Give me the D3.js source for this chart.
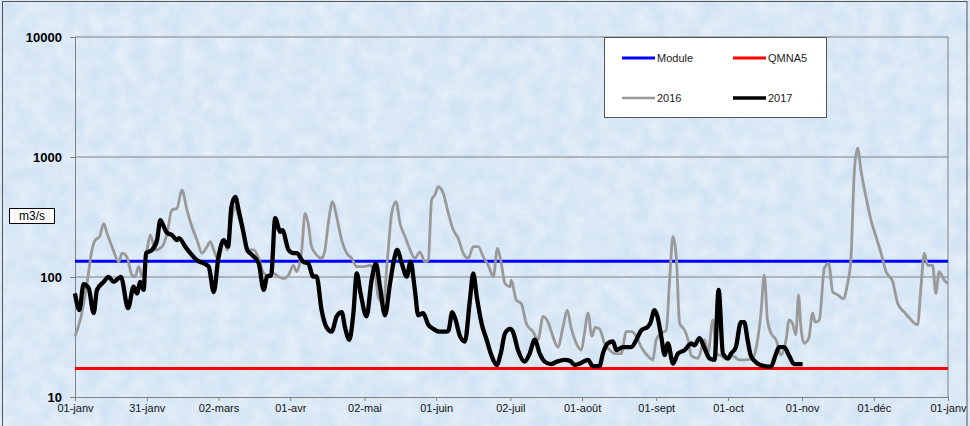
<!DOCTYPE html>
<html><head><meta charset="utf-8">
<script src="https://cdn.jsdelivr.net/npm/d3@7"></script>
<style>
html,body{margin:0;padding:0;background:#fff;}
svg{display:block;font-family:"Liberation Sans",Arial,sans-serif;}
</style></head>
<body><svg id="c" width="970" height="426"></svg>
<script>
// ---- data (day of year, m3/s) ----
const tickDays   = [0,30,60,90,121,151,182,212,243,273,304,334,365];
const tickLabels = ["01-janv","31-janv","02-mars","01-avr","02-mai","01-juin","02-juil","01-août","01-sept","01-oct","01-nov","01-déc","01-janv"];
const yTicks = [10,100,1000,10000];
const moduleValue = 135;
const qmna5Value = 17.3;

const days2016 = [0,2.2,5,7.1,8.5,10.3,12,13.4,15.5,18.3,19.7,21.7,23.8,25.2,26.6,28.2,30.1,31.5,33.6,36.4,38.5,40.5,42.6,44.7,46.8,48.9,51,53.1,55.2,56.6,58,60,62.2,63.6,65.6,67,68.4,70.5,72.6,74.7,76.8,78.9,81,83,85,87.2,89.3,91.3,92.7,94.8,96.2,97.5,98.9,101,103.1,104.5,105.9,107.7,109.4,111.5,113.6,115.7,117.8,120.6,123.3,125.4,126.8,128.9,130.6,132.4,134.2,135.9,138,140.1,142.1,144.2,146.3,147.7,149.1,150.5,151.9,154,156.1,158.2,160.2,162.3,164.4,166.5,168.6,170.7,172.8,174.9,176.6,178,179.8,181.9,182.4,184.5,186.6,188.7,191.5,193.6,195.7,197.8,199.8,201.9,204,205.8,207.4,209.6,211.7,213,214.5,216.1,217.5,219.3,221.4,223.5,225.6,228.4,230.5,232.6,234.7,236.8,239.5,241.6,243,245.1,247.2,248.6,250,251.4,252.8,254.9,256.3,257.7,260.5,263.2,264.6,266.7,268.1,270.2,273,275,277.7,280.5,283.3,285.4,286.8,288.2,289.5,291,293.1,295.2,297.3,298.6,300,301.4,302.5,303.5,304.9,306.8,308.4,309.5,311.2,313.3,315.1,316.8,318.9,321.2,323,324.4,325.8,327.2,328.6,330.7,332.8,334.9,337,339.1,341.9,344,346.7,349.5,352.3,353.7,355.1,356.5,358.6,359.9,361.3,363.4,364.8];
const flow2016 = [32,44,88,168,203,217,279,231,179,134,158,147,104,101,122,101,168,224,168,179,231,362,372,532,362,262,203,158,179,197,168,138,203,168,317,385,317,231,168,168,143,107,101,107,101,97,104,125,111,168,339,279,179,153,143,168,279,424,317,203,158,143,122,122,125,107,68,60,138,339,424,279,217,168,143,162,134,138,439,484,565,497,339,246,211,158,143,179,179,147,125,101,173,138,88,83,94,64,60,41,35,30,47,42,32,26,38,53,38,28,24.6,34,50,32,38,37,28,24.6,23,23,35,35,32,26,22,20.4,30,34,36,94,217,147,41,36,30,22,21,30,23,44,23,22,20.4,22,20.4,20.4,21,30,50,104,44,34,30,22.4,30,44,41,33,71,38,28,31,50,42,44,118,130,75,71,66,88,138,736,1185,776,466,298,217,158,111,91,60,51,44,40,83,158,125,125,73,111,94,88];

const days2017 = [0,1.8,3.6,5.7,7.8,9.2,12,14,16.2,18.3,19.2,22.2,24.5,25.9,27.3,28.7,29.7,32.2,34.3,35.7,36.5,38.5,40.5,42.6,43.5,46.1,48.2,51,53.8,55.9,58,60,62.2,64,65.4,67,68.4,70.5,72,74,76.8,78.9,80.3,82,83.7,85.8,86.7,89.3,91.4,92.7,95.4,97.5,99.6,101,103.1,105.2,107.3,109.4,111.5,112.9,114.7,116.4,117.8,119.4,121.9,124,125.8,127.5,129.6,131.7,133.1,134.7,136.6,138.7,140.3,142.1,143.5,145.6,147.7,149.8,152.6,155.4,156.2,157.7,159.1,161,163,165.1,166.5,168,170,172.1,174.2,176.3,178,179.8,181.9,183.1,185.2,188,190.1,192.2,194.3,196.4,199,201.5,204.7,207,208.9,211,214.5,216.5,219.3,220.7,222.8,224.9,226.3,229.1,232.6,234.7,236.8,239.5,240.5,242.3,243.5,245.1,246.5,247.9,250,252.1,254.9,257.7,259,261.1,263.2,265.3,267.4,269.1,270.9,273,274.3,276.3,278.4,279.8,281.2,282.6,285.4,288.2,291,292.8,294.4,296.5,298.6,300.7,304.2];
const flow2017 = [73,53,87,81,50,78,91,100,91,98,100,55,83,73,91,78,158,168,203,298,280,233,224,203,211,179,158,138,130,122,75,147,203,179,385,466,362,231,168,153,130,78,101,103,309,238,246,168,158,158,134,130,101,101,53,38,35,47,51,38,30,50,107,73,47,94,130,83,48,88,130,168,130,101,134,78,48,50,40,37,35,35,36,51,44,32,29,64,107,68,41,30,22,18.5,23,34,37,35,24.6,19.7,23,30,23,19.7,18.8,19.7,20.4,20,18.5,19,20.4,18.1,18.1,23,28,29,24.6,26,26,30,36,38.5,41,53,47,32,22.4,28,19,23,24.6,28,27,31,25.5,21,20.4,78,23,21,23,26,42,42,30,22,19,18.1,17.9,22,26,26,22,18.8,18.8];

// ---- layout ----
const svg = d3.select("#c");
const W = 970, H = 426;
const m = {left:75, right:948, top:37, bottom:397};

const defs = svg.append("defs");
const f = defs.append("filter").attr("id","tex").attr("x",0).attr("y",0).attr("width","100%").attr("height","100%");
f.append("feTurbulence").attr("type","fractalNoise").attr("baseFrequency","0.06").attr("numOctaves",3).attr("seed",4).attr("result","n");
f.append("feColorMatrix").attr("in","n").attr("type","matrix")
 .attr("values","0 0 0 0 1  0 0 0 0 1  0 0 0 0 1  0 0 0 0.6 -0.12").attr("result","w");
f.append("feComposite").attr("in","w").attr("in2","SourceGraphic").attr("operator","over");

svg.append("rect").attr("x",0).attr("y",0).attr("width",W).attr("height",H).attr("fill","#d1e3f4");
svg.append("rect").attr("x",0).attr("y",0).attr("width",W).attr("height",H).attr("fill","#d1e3f4").attr("filter","url(#tex)");
svg.append("rect").attr("x",2.5).attr("y",1.5).attr("width",964.5).attr("height",430).attr("fill","none").attr("stroke","#555").attr("stroke-width",1);

const x = d3.scaleLinear().domain([0,365]).range([m.left,m.right]);
const y = d3.scaleLog().domain([10,10000]).range([m.bottom,m.top]);

// gridlines
svg.append("g").selectAll("line").data(yTicks.filter(d=>d>10)).join("line")
  .attr("x1",m.left).attr("x2",m.right).attr("y1",d=>y(d)).attr("y2",d=>y(d))
  .attr("stroke","#808080").attr("stroke-width",1);
svg.append("line").attr("x1",m.right).attr("x2",m.right).attr("y1",m.top).attr("y2",m.bottom).attr("stroke","#808080");

// axes
const yAxis = d3.axisLeft(y).tickValues(yTicks).tickFormat(d3.format("d")).tickSize(5).tickPadding(8);
const gy = svg.append("g").attr("transform",`translate(${m.left},0)`).call(yAxis);
gy.select(".domain").attr("stroke","#808080");
gy.selectAll(".tick line").attr("stroke","#808080");
gy.selectAll("text").attr("font-size",13).attr("font-weight","bold").attr("fill","#000");

const xAxis = d3.axisBottom(x).tickValues(tickDays).tickFormat((d,i)=>tickLabels[i]).tickSize(4).tickPadding(3);
const gx = svg.append("g").attr("transform",`translate(0,${m.bottom})`).call(xAxis);
gx.select(".domain").attr("stroke","#808080");
gx.selectAll(".tick line").attr("stroke","#808080");
gx.selectAll("text").attr("font-size",11).attr("fill","#111");

// reference lines
svg.append("line").attr("x1",m.left).attr("x2",m.right).attr("y1",y(moduleValue)).attr("y2",y(moduleValue)).attr("stroke","#0000ff").attr("stroke-width",3);
svg.append("line").attr("x1",m.left).attr("x2",m.right).attr("y1",y(qmna5Value)).attr("y2",y(qmna5Value)).attr("stroke","#ff0000").attr("stroke-width",3);

const line = d3.line().x(d=>x(d[0])).y(d=>y(d[1])).curve(d3.curveMonotoneX);
svg.append("path").datum(d3.zip(days2016,flow2016)).attr("d",line).attr("fill","none")
  .attr("stroke","#999999").attr("stroke-width",2.8).attr("stroke-linejoin","round");
svg.append("path").datum(d3.zip(days2017,flow2017)).attr("d",line).attr("fill","none")
  .attr("stroke","#000").attr("stroke-width",4.3).attr("stroke-linejoin","round");

// legend
const lg = svg.append("g");
lg.append("rect").attr("x",604.5).attr("y",37.5).attr("width",222).attr("height",80).attr("fill","#fff").attr("stroke","#555");
const items = [
  {label:"Module", color:"#0000ff", w:3, x:622, y:58},
  {label:"QMNA5", color:"#ff0000", w:3, x:733, y:58},
  {label:"2016", color:"#999999", w:2.6, x:622, y:98},
  {label:"2017", color:"#000", w:3.5, x:733, y:98}
];
items.forEach(it=>{
  lg.append("line").attr("x1",it.x).attr("x2",it.x+33).attr("y1",it.y).attr("y2",it.y).attr("stroke",it.color).attr("stroke-width",it.w);
  lg.append("text").attr("x",it.x+35).attr("y",it.y+4).attr("font-size",11).attr("fill","#222").text(it.label);
});

// unit label
svg.append("rect").attr("x",9.5).attr("y",208.5).attr("width",45).attr("height",15).attr("fill","#fff").attr("stroke","#000");
svg.append("text").attr("x",32).attr("y",220).attr("text-anchor","middle").attr("font-size",12).attr("fill","#000").text("m3/s");
</script></body></html>
